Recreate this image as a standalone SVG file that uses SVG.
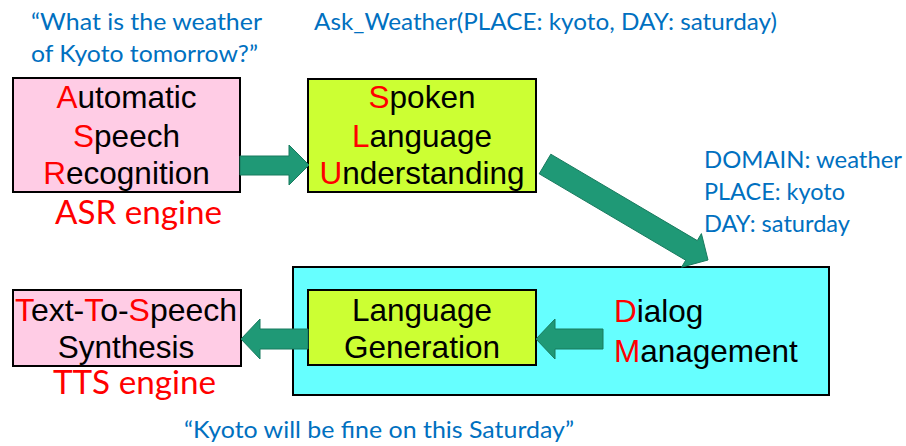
<svg xmlns="http://www.w3.org/2000/svg" width="906" height="446" viewBox="0 0 906 446">
<style>
.box{stroke:#000;stroke-width:2}
.pink{fill:#FFCCE5}
.lime{fill:#CCFF33}
.cyan{fill:#66FFFF}
.lbl{font-family:"Liberation Sans",Arial,sans-serif;font-size:31.5px;fill:#000}
.r{fill:#FF0000}
.blue{font-family:Lato,"Open Sans",sans-serif;font-size:23px;fill:#0070C0}
.eng{font-family:Lato,"Open Sans",sans-serif;font-size:32px;fill:#FF0000}
.arrow{fill:#1F9976;stroke:#187A5E;stroke-width:1}
</style>
<rect width="906" height="446" fill="#fff"/>
<g id="asr">
<rect class="box pink" x="13" y="78" width="227" height="114"/>
<text class="lbl" x="126.5" y="108" text-anchor="middle"><tspan class="r">A</tspan>utomatic</text>
<text class="lbl" x="126.5" y="147" text-anchor="middle"><tspan class="r">S</tspan>peech</text>
<text class="lbl" x="126.5" y="184" text-anchor="middle"><tspan class="r">R</tspan>ecognition</text>
<text class="eng" x="55" y="224" textLength="167" lengthAdjust="spacingAndGlyphs">ASR engine</text>
</g>
<g id="slu">
<rect class="box lime" x="308" y="79" width="228" height="113"/>
<text class="lbl" x="422" y="108" text-anchor="middle"><tspan class="r">S</tspan>poken</text>
<text class="lbl" x="422" y="147" text-anchor="middle"><tspan class="r">L</tspan>anguage</text>
<text class="lbl" x="422" y="184" text-anchor="middle"><tspan class="r">U</tspan>nderstanding</text>
</g>
<g id="dm">
<rect class="box cyan" x="293" y="267" width="536" height="128"/>
<text class="lbl" x="614" y="322"><tspan class="r">D</tspan>ialog</text>
<text class="lbl" x="614" y="362"><tspan class="r">M</tspan>anagement</text>
</g>
<g id="lg">
<rect class="box lime" x="308" y="290" width="228" height="75"/>
<text class="lbl" x="422" y="321" text-anchor="middle">Language</text>
<text class="lbl" x="422" y="358" text-anchor="middle">Generation</text>
</g>
<g id="tts">
<rect class="box pink" x="13" y="290" width="228" height="76"/>
<text class="lbl" x="126" y="321" text-anchor="middle" textLength="222" lengthAdjust="spacingAndGlyphs"><tspan class="r">T</tspan>ext-<tspan class="r">T</tspan>o-<tspan class="r">S</tspan>peech</text>
<text class="lbl" x="126" y="358" text-anchor="middle">Synthesis</text>
<text class="eng" x="53" y="394" textLength="163" lengthAdjust="spacingAndGlyphs">TTS engine</text>
</g>
<g id="annotations">
<text class="blue" x="31" y="30" textLength="231" lengthAdjust="spacingAndGlyphs">“What is the weather</text>
<text class="blue" x="31" y="62" textLength="227" lengthAdjust="spacingAndGlyphs">of Kyoto tomorrow?”</text>
<text class="blue" x="314" y="30" textLength="463" lengthAdjust="spacingAndGlyphs">Ask_Weather(PLACE: kyoto, DAY: saturday)</text>
<text class="blue" x="704" y="168" textLength="198" lengthAdjust="spacingAndGlyphs">DOMAIN: weather</text>
<text class="blue" x="704" y="200" textLength="141" lengthAdjust="spacingAndGlyphs">PLACE: kyoto</text>
<text class="blue" x="704" y="232" textLength="146" lengthAdjust="spacingAndGlyphs">DAY: saturday</text>
<text class="blue" x="184" y="438" textLength="390" lengthAdjust="spacingAndGlyphs">“Kyoto will be fine on this Saturday”</text>
</g>
<g id="connectors">
<polygon class="arrow" points="240,156 289,156 289,145 309,165 289,185 289,175 240,175"/>
<polygon class="arrow" points="539.2,173.8 550.8,154.2 697.3,240.6 701.4,233.6 708,260 681.6,267.2 685.7,260.2"/>
<polygon class="arrow" points="603,329 555,329 555,319 536,339 555,359 555,349 603,349"/>
<polygon class="arrow" points="308,329 260,329 260,319 241,339 260,359 260,349 308,349"/>
</g>
</svg>
